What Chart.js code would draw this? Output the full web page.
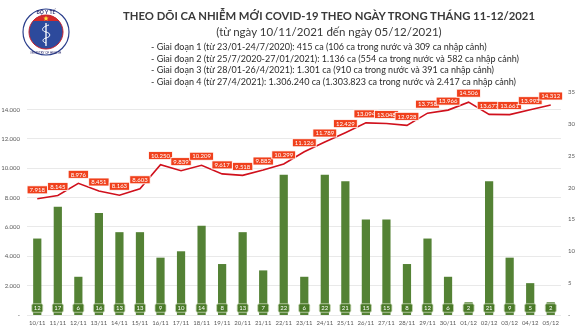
<!DOCTYPE html>
<html lang="vi">
<head>
<meta charset="utf-8">
<script src="https://cdn.jsdelivr.net/npm/chart.js@4"></script>
<style>
  html, body { margin: 0; padding: 0; background: #fff; }
  #wrap { position: relative; width: 580px; height: 326px; overflow: hidden; font-family: Lato, "Open Sans", sans-serif; }
  #chartBox { position: absolute; left: 0; top: 0; width: 580px; height: 326px; }
  #logo { position: absolute; left: 20px; top: 6px; }
  .t { position: absolute; white-space: nowrap; color: #3a3a3a; }
  #title { left: 0; width: 658px; top: 9px; text-align: center; font-weight: 700; font-size: 11.3px; }
  #sub { left: 0; width: 658px; top: 25px; text-align: center; font-size: 11.5px; }
  .ln { left: 151px; font-size: 9px; color: #2b2b2b; }
</style>
</head>
<body>
<div id="wrap">
  <div id="chartBox"><canvas id="covidChart"></canvas></div>
  <canvas id="logo" width="52" height="52"></canvas>
  <div class="t" id="title">THEO DÕI CA NHIỄM MỚI COVID-19 THEO NGÀY TRONG THÁNG 11-12/2021</div>
  <div class="t" id="sub">(từ ngày 10/11/2021 đến ngày 05/12/2021)</div>
  <div class="t ln" style="top:41px">- Giai đoạn 1 (từ 23/01-24/7/2020): 415 ca (106 ca trong nước và 309 ca nhập cảnh)</div>
  <div class="t ln" style="top:52.5px">- Giai đoạn 2 (từ 25/7/2020-27/01/2021): 1.136 ca (554 ca trong nước và 582 ca nhập cảnh)</div>
  <div class="t ln" style="top:64px">- Giai đoạn 3 (từ 28/01-26/4/2021): 1.301 ca (910 ca trong nước và 391 ca nhập cảnh)</div>
  <div class="t ln" style="top:75.5px">- Giai đoạn 4 (từ 27/4/2021): 1.306.240 ca (1.303.823 ca trong nước và 2.417 ca nhập cảnh)</div>
</div>
<script>
const days = ["10/11","11/11","12/11","13/11","14/11","15/11","16/11","17/11","18/11","19/11","20/11","21/11","22/11",
  "23/11","24/11","25/11","26/11","27/11","28/11","29/11","30/11","01/12","02/12","03/12","04/12","05/12"];
const newCases = [7918,8145,8976,8451,8163,8603,10250,9839,10209,9617,9518,9882,10299,
  11126,11789,12429,13094,13048,12928,13758,13966,14506,13677,13661,13993,14312];
const deaths = [12,17,6,16,13,13,9,10,14,8,13,7,22,6,22,21,15,15,8,12,6,2,21,9,5,2];
const caseTicks = [0,2000,4000,6000,8000,10000,12000,14000];
const deathTicks = [0,5,10,15,20,25,30,35];

const FONT = "Lato, 'Open Sans', sans-serif";
const fmt = v => v === 0 ? "-" : v.toLocaleString("de-DE");

function roundBox(ctx, x, y, w, h, r) {
  ctx.beginPath();
  ctx.roundRect(x, y, w, h, r);
}

// value tags: white text in small filled boxes
const tagPlugin = {
  id: "tags",
  afterDatasetsDraw(chart) {
    const ctx = chart.ctx;
    const yR = chart.scales.yDeaths;
    ctx.save();
    ctx.textAlign = "center";
    ctx.textBaseline = "middle";

    // death counts at the foot of each bar
    ctx.font = "6px " + FONT;
    chart.getDatasetMeta(1).data.forEach((bar, i) => {
      const cy = yR.getPixelForValue(0) - 7;
      const txt = String(deaths[i]);
      const w = 11, h = 8.5;
      roundBox(ctx, bar.x - w / 2, cy - h / 2, w, h, 1.5);
      ctx.fillStyle = "#4a7a28";
      ctx.fill();
      ctx.lineWidth = 0.8;
      ctx.strokeStyle = "#c9d8b8";
      ctx.stroke();
      ctx.fillStyle = "#ffffff";
      ctx.fillText(txt, bar.x, cy + 0.3);
    });

    // case counts above the line
    ctx.font = "6px " + FONT;
    chart.getDatasetMeta(0).data.forEach((pt, i) => {
      const txt = fmt(newCases[i]);
      const w = ctx.measureText(txt).width + 5, h = 8;
      const cy = pt.y - 9;
      ctx.fillStyle = "#f0401c";
      ctx.fillRect(pt.x - w / 2, cy - h / 2, w, h);
      ctx.lineWidth = 0.8;
      ctx.strokeStyle = "#ffffff";
      ctx.strokeRect(pt.x - w / 2, cy - h / 2, w, h);
      ctx.fillStyle = "#ffffff";
      ctx.fillText(txt, pt.x, cy + 0.3);
    });
    ctx.restore();
  }
};

new Chart(document.getElementById("covidChart"), {
  type: "bar",
  data: {
    labels: days,
    datasets: [
      {
        type: "line",
        label: "Ca nhiễm mới",
        data: newCases,
        yAxisID: "yCases",
        borderColor: "#d0101c",
        borderWidth: 1.6,
        pointRadius: 0,
        tension: 0,
        order: 1
      },
      {
        type: "bar",
        label: "Tử vong",
        data: deaths,
        yAxisID: "yDeaths",
        backgroundColor: "#548235",
        barPercentage: 0.4,
        categoryPercentage: 1,
        order: 2
      }
    ]
  },
  options: {
    responsive: true,
    maintainAspectRatio: false,
    animation: false,
    layout: { padding: { top: 92, left: 0, right: 0, bottom: 0 } },
    plugins: { legend: { display: false }, tooltip: { enabled: false } },
    scales: {
      x: {
        grid: { display: false, drawTicks: false },
        border: { display: false },
        ticks: { font: { size: 6, family: FONT }, color: "#595959", padding: 4, maxRotation: 0, autoSkip: false },
        afterFit: s => { s.height = 11; }
      },
      yCases: {
        position: "left",
        min: 0,
        max: 15200,
        grid: { color: "#e3e3e3", lineWidth: 0.8, drawTicks: false },
        border: { display: false },
        ticks: { stepSize: 2000, font: { size: 6, family: FONT }, color: "#595959", padding: 7, callback: v => fmt(v) },
        afterBuildTicks: s => { s.ticks = caseTicks.map(v => ({ value: v })); },
        afterFit: s => { s.width = 27; }
      },
      yDeaths: {
        position: "right",
        min: 0,
        max: 35,
        grid: { display: false, drawTicks: false },
        border: { display: false },
        ticks: { stepSize: 5, font: { size: 6, family: FONT }, color: "#595959", padding: 7, callback: v => fmt(v) },
        afterBuildTicks: s => { s.ticks = deathTicks.map(v => ({ value: v })); },
        afterFit: s => { s.width = 19; }
      }
    }
  },
  plugins: [tagPlugin]
});

// ministry emblem
(function drawLogo() {
  const c = document.getElementById("logo").getContext("2d");
  const cx = 26, cy = 26;
  c.beginPath(); c.arc(cx, cy, 23, 0, Math.PI * 2);
  c.fillStyle = "#ffffff"; c.fill();
  c.lineWidth = 1.2; c.strokeStyle = "#2b3f8c"; c.stroke();
  c.beginPath(); c.arc(cx, cy, 17, 0, Math.PI * 2);
  c.fillStyle = "#2d4a9c"; c.fill();
  c.lineWidth = 1; c.strokeStyle = "#c8202c"; c.stroke();
  // red band with star
  c.save();
  c.beginPath(); c.arc(cx, cy, 17, 0, Math.PI * 2); c.clip();
  c.fillStyle = "#d42a2a"; c.fillRect(cx - 18, cy - 18, 36, 7);
  c.restore();
  c.fillStyle = "#ffde3a";
  c.beginPath();
  for (let k = 0; k < 10; k++) {
    const r = k % 2 ? 1.2 : 2.8, a = -Math.PI / 2 + k * Math.PI / 5;
    c.lineTo(cx + r * Math.cos(a), cy - 13.5 + r * Math.sin(a));
  }
  c.closePath(); c.fill();
  // staff and serpent
  c.strokeStyle = "#ffffff"; c.lineWidth = 1.3;
  c.beginPath(); c.moveTo(cx, cy - 9); c.lineTo(cx, cy + 14); c.stroke();
  c.lineWidth = 1;
  c.beginPath();
  c.moveTo(cx + 3, cy - 7);
  c.bezierCurveTo(cx - 5, cy - 5, cx - 5, cy - 1, cx, cy);
  c.bezierCurveTo(cx + 5, cy + 1, cx + 5, cy + 5, cx, cy + 6);
  c.bezierCurveTo(cx - 4, cy + 7, cx - 4, cy + 10, cx, cy + 11);
  c.stroke();
  c.fillStyle = "#2d2d6e";
  c.font = "bold 5px " + FONT; c.textAlign = "center";
  c.fillText("BỘ Y TẾ", cx, cy - 18);
  c.font = "3px " + FONT;
  c.fillText("MINISTRY OF HEALTH", cx, cy + 21.5);
})();
</script>
</body>
</html>
